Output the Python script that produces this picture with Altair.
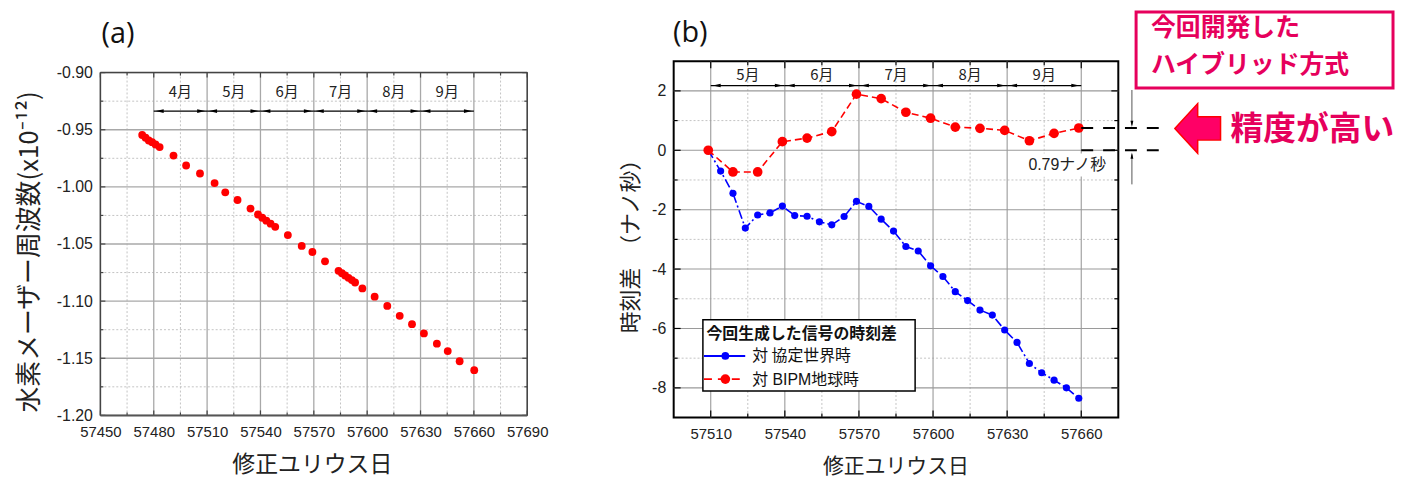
import altair as alt
import pandas as pd

# ---------------- data: panel (a) ----------------
a_mjd = [57473.5, 57475.4, 57477.2, 57479.1, 57481.0, 57483.3,
         57491.1, 57498.2, 57506.0, 57514.2, 57520.2, 57527.1, 57534.4,
         57538.6, 57541.0, 57543.3, 57545.7, 57548.3,
         57555.4, 57563.2, 57569.2, 57576.3,
         57583.9, 57585.8, 57587.6, 57589.5, 57591.4, 57593.2,
         57597.3, 57604.2, 57611.3, 57618.3, 57625.2, 57631.9, 57639.2,
         57645.3, 57652.0, 57660.2]
a_val = [-0.9546, -0.9570, -0.9594, -0.9609, -0.9629, -0.9652,
         -0.9726, -0.9813, -0.9883, -0.9967, -1.0048, -1.0115, -1.0190,
         -1.0242, -1.0270, -1.0296, -1.0322, -1.0350,
         -1.0422, -1.0517, -1.0570, -1.0652,
         -1.0735, -1.0755, -1.0776, -1.0796, -1.0816, -1.0837,
         -1.0889, -1.0961, -1.1042, -1.1129, -1.1202, -1.1283, -1.1372,
         -1.1437, -1.1526, -1.1604]

# ---------------- data: panel (b) ----------------
b_red_mjd = [57509, 57519, 57529, 57539, 57549, 57559, 57569, 57579,
             57589, 57599, 57609, 57619, 57629, 57639, 57649, 57659]
b_red_val = [0.0, -0.73, -0.73, 0.29, 0.41, 0.63, 1.89, 1.74,
             1.28, 1.08, 0.78, 0.74, 0.67, 0.32, 0.57, 0.75]
b_blue_mjd = [57509, 57514, 57519, 57524, 57529, 57534, 57539, 57544,
              57549, 57554, 57559, 57564, 57569, 57574, 57579, 57584,
              57589, 57594, 57599, 57604, 57609, 57614, 57619, 57624,
              57629, 57634, 57639, 57644, 57649, 57654, 57659]
b_blue_val = [0.0, -0.70, -1.45, -2.62, -2.18, -2.11, -1.88, -2.20,
              -2.22, -2.41, -2.51, -2.23, -1.72, -1.89, -2.32, -2.72,
              -3.24, -3.39, -3.89, -4.25, -4.76, -5.06, -5.38, -5.55,
              -6.05, -6.47, -7.18, -7.49, -7.74, -8.00, -8.35]

a_month_edges = [57480, 57510, 57540, 57570, 57600, 57630, 57660]
a_months = ["4月", "5月", "6月", "7月", "8月", "9月"]
b_month_edges = [57510, 57540, 57570, 57600, 57630, 57660]
b_months = ["5月", "6月", "7月", "8月", "9月"]

a_x_major = [57450, 57480, 57510, 57540, 57570, 57600, 57630, 57660, 57690]
a_x_minor = [57465, 57495, 57525, 57555, 57585, 57615, 57645, 57675]
a_y_major = [-1.20, -1.15, -1.10, -1.05, -1.00, -0.95, -0.90]
a_y_minor = [-1.175, -1.125, -1.075, -1.025, -0.975, -0.925]
b_x_major = [57510, 57540, 57570, 57600, 57630, 57660]
b_x_minor = [57525, 57555, 57585, 57615, 57645]
b_y_major = [-8, -6, -4, -2, 0, 2]
b_y_minor = [-7, -5, -3, -1, 1]
gap_value = [0.75]

JP = "Noto Sans CJK JP"
LAT = "Liberation Sans, Noto Sans CJK JP"
PINK = "#E6005C"
MINUS = "replace(format(datum.value, '{f}'), '\u2212', '-')"

AW, AH, ATOP = 429.6, 356.5, 11.5
BW, BH = 447.5, 358.7

ax_s = alt.Scale(domain=[57450, 57690], nice=False, zero=False)
ay_s = alt.Scale(domain=[-1.2, -0.9], range=[AH, ATOP], nice=False, zero=False)
bx_s = alt.Scale(domain=[57495, 57675], nice=False, zero=False)
by_s = alt.Scale(domain=[-9, 3], nice=False, zero=False)

AXES = {
    id(ax_s): alt.Axis(values=a_x_major, format="d", labelFont=LAT, labelFontSize=15,
                       labelColor="#222", ticks=False, grid=False, domain=False,
                       labelPadding=9, labelFlush=False, title=None),
    id(ay_s): alt.Axis(values=a_y_major, labelExpr=MINUS.format(f=".2f"), labelFont=LAT,
                       labelFontSize=16, labelColor="#222", ticks=False, grid=False,
                       domain=False, labelPadding=8, labelFlush=False, title=None),
    id(bx_s): alt.Axis(values=b_x_major, format="d", labelFont=LAT, labelFontSize=15,
                       labelColor="#222", ticks=False, grid=False, domain=False,
                       labelPadding=9, labelFlush=False, title=None),
    id(by_s): alt.Axis(values=b_y_major, labelExpr=MINUS.format(f="d"), labelFont=LAT,
                       labelFontSize=16, labelColor="#222", ticks=False, grid=False,
                       domain=False, labelPadding=8, labelFlush=False, title=None),
}


def X(field, s):
    return alt.X(field, scale=s, axis=AXES[id(s)], title=None)


def Y(field, s):
    return alt.Y(field, scale=s, axis=AXES[id(s)], title=None)


def XD(v, s):
    return alt.datum(v, scale=s, axis=AXES[id(s)])


def YD(v, s):
    return alt.datum(v, scale=s, axis=AXES[id(s)])


one = pd.DataFrame({"k": [0]})


def T(s, x, y, size, font=JP, weight="normal", color="#222", align="center", angle=0):
    kw = dict(fontSize=size, font=font, fontWeight=weight, color=color,
              align=align, baseline="middle")
    if angle:
        kw["angle"] = angle
    return alt.Chart(pd.DataFrame({"t": [s]})).mark_text(**kw).encode(
        x=alt.value(x), y=alt.value(y), text="t:N")


def R(x1, y1, x2=None, y2=None, color="black", width=1.0, dash=None):
    enc = dict(x=alt.value(x1), y=alt.value(y1))
    if x2 is not None:
        enc["x2"] = alt.value(x2)
    if y2 is not None:
        enc["y2"] = alt.value(y2)
    kw = dict(color=color, strokeWidth=width)
    if dash:
        kw["strokeDash"] = dash
    return alt.Chart(one).mark_rule(**kw).encode(**enc)


def vlines(vals, scale, y1, y2, color, width, dash=None):
    kw = dict(color=color, strokeWidth=width)
    if dash:
        kw["strokeDash"] = dash
    return alt.Chart(pd.DataFrame({"v": vals})).mark_rule(**kw).encode(
        x=X("v:Q", scale), y=alt.value(y1), y2=alt.value(y2))


def hlines(vals, scale, x1, x2, color, width, dash=None):
    kw = dict(color=color, strokeWidth=width)
    if dash:
        kw["strokeDash"] = dash
    return alt.Chart(pd.DataFrame({"v": vals})).mark_rule(**kw).encode(
        y=Y("v:Q", scale), x=alt.value(x1), x2=alt.value(x2))


LEFT_HEAD = "M -1 0 L 1 -0.45 L 1 0.45 Z"
RIGHT_HEAD = "M 1 0 L -1 -0.45 L -1 0.45 Z"
DOWN_HEAD = "M 0 1 L -0.45 -1 L 0.45 -1 Z"
UP_HEAD = "M 0 -1 L -0.45 1 L 0.45 1 Z"
BIG_ARROW = "M -0.92 0 L 0 -1 L 0 -0.47 L 0.92 -0.47 L 0.92 0.47 L 0 0.47 L 0 1 Z"


def month_arrows(edges, names, xs, ys, y_arrow, y_label):
    df = pd.DataFrame({"s": edges[:-1], "e": edges[1:], "name": names})
    df["m"] = (df["s"] + df["e"]) / 2
    base = alt.Chart(df)
    line = base.mark_rule(color="black", strokeWidth=1.2).encode(
        x=X("s:Q", xs), x2="e:Q", y=YD(y_arrow, ys))
    lh = base.mark_point(shape=LEFT_HEAD, filled=True, color="black", size=64,
                         opacity=1, xOffset=6).encode(x=X("s:Q", xs), y=YD(y_arrow, ys))
    rh = base.mark_point(shape=RIGHT_HEAD, filled=True, color="black", size=64,
                         opacity=1, xOffset=-6).encode(x=X("e:Q", xs), y=YD(y_arrow, ys))
    lab = base.mark_text(font=JP, fontSize=15, color="#222").encode(
        x=X("m:Q", xs), y=YD(y_label, ys), text="name:N")
    return [line, lh, rh, lab]


def ticks(xv, xminor, yv, yminor, xs, ys, W, top, H, major, minor, color):
    return [
        vlines(xv, xs, H, H - major, color, 1.2),
        vlines(xminor, xs, H, H - minor, color, 1.2),
        vlines(xv, xs, top, top + major, color, 1.2),
        vlines(xminor, xs, top, top + minor, color, 1.2),
        hlines(yv, ys, 0, major, color, 1.2),
        hlines(yminor, ys, 0, minor, color, 1.2),
        hlines(yv, ys, W - major, W, color, 1.2),
        hlines(yminor, ys, W - minor, W, color, 1.2),
    ]


def P(shape, x, y, size, fill, stroke=None, sw=0):
    kw = dict(shape=shape, filled=True, fill=fill, size=size, opacity=1)
    if stroke:
        kw["stroke"] = stroke
        kw["strokeWidth"] = sw
    else:
        kw["strokeWidth"] = 0
    return alt.Chart(one).mark_point(**kw).encode(x=alt.value(x), y=alt.value(y))


def RECT(x1, y1, x2, y2, fill, stroke, sw):
    return alt.Chart(one).mark_rect(fill=fill, stroke=stroke, strokeWidth=sw).encode(
        x=alt.value(x1), x2=alt.value(x2), y=alt.value(y1), y2=alt.value(y2))


# ---------------- panel (a) ----------------
dfa = pd.DataFrame({"mjd": a_mjd, "val": a_val})
a_points = alt.Chart(dfa).mark_circle(size=62, color="#FF0000", opacity=1).encode(
    x=X("mjd:Q", ax_s), y=Y("val:Q", ay_s))

a_layers = [
    R(-91.2, 300, -90.7, None, "white", 1),
    vlines(a_x_minor, ax_s, ATOP, AH, "#c4c4c4", 1, [2, 2]),
    hlines(a_y_minor, ay_s, 0, AW, "#c4c4c4", 1, [2, 2]),
    vlines(a_x_major, ax_s, ATOP, AH, "#a8a8a8", 1.3),
    hlines(a_y_major, ay_s, 0, AW, "#a8a8a8", 1.3),
] + ticks(a_x_major, a_x_minor, a_y_major, a_y_minor, ax_s, ay_s, AW, ATOP, AH, 5, 3, "#444") + [
    R(0, ATOP, AW, None, "#444", 1.5),
    R(AW, ATOP, None, AH, "#444", 1.5),
    R(0, ATOP, None, AH, "#444", 1.5),
    R(0, AH, AW, None, "#555", 2),
] + month_arrows(a_month_edges, a_months, ax_s, ay_s, -0.9337, -0.9166) + [
    a_points,
    T("(a)", 17.8, -27.3, 29, font="Open Sans", color="#111"),
    T("水素メーザー周波数(x10\u207b\u00b9\u00b2)", -71, 192, 26, angle=270),
    T("修正ユリウス日", 213.3, 406, 23),
]
panel_a = alt.layer(*a_layers).properties(
    width=AW, height=AH, view=alt.ViewBackground(stroke="transparent"))

# ---------------- panel (b) ----------------
dfr = pd.DataFrame({"mjd": b_red_mjd, "val": b_red_val})
dfb = pd.DataFrame({"mjd": b_blue_mjd, "val": b_blue_val})
blue_line = alt.Chart(dfb).mark_line(color="#0000FF", strokeWidth=1.6,
                                     strokeDash=[9, 3, 2, 3]).encode(
    x=X("mjd:Q", bx_s), y=Y("val:Q", by_s))
blue_pts = alt.Chart(dfb).mark_circle(size=52, color="#0000FF", opacity=1).encode(
    x=X("mjd:Q", bx_s), y=Y("val:Q", by_s))
red_line = alt.Chart(dfr).mark_line(color="#FF0000", strokeWidth=1.6,
                                    strokeDash=[7, 4]).encode(
    x=X("mjd:Q", bx_s), y=Y("val:Q", by_s))
red_pts = alt.Chart(dfr).mark_circle(size=95, color="#FF0000", opacity=1).encode(
    x=X("mjd:Q", bx_s), y=Y("val:Q", by_s))

gap_df = pd.DataFrame({"g": gap_value})
gap_top = alt.Chart(gap_df).mark_rule(color="black", strokeWidth=2.2, strokeDash=[12, 10]).encode(
    x=XD(57660, bx_s), x2=alt.value(491), y=Y("g:Q", by_s))
gap_bot = alt.Chart(one).mark_rule(color="black", strokeWidth=2.2, strokeDash=[12, 10]).encode(
    x=XD(57660, bx_s), x2=alt.value(491), y=YD(0, by_s))

b_layers = [
    vlines(b_x_minor, bx_s, 0, BH, "#c4c4c4", 1, [2, 2]),
    hlines(b_y_minor, by_s, 0, BW, "#c4c4c4", 1, [2, 2]),
    vlines(b_x_major, bx_s, 0, BH, "#9a9a9a", 1.1),
    hlines(b_y_major, by_s, 0, BW, "#9a9a9a", 1.1),
] + ticks(b_x_major, b_x_minor, b_y_major, b_y_minor, bx_s, by_s, BW, 0, BH, 7, 4, "black") + \
    month_arrows(b_month_edges, b_months, bx_s, by_s, 2.18, 2.54) + [
    RECT(355, 93, 438, 116, "white", "white", 0),
    T("0.79ナノ秒", 357, 105, 16, font=LAT, align="left"),
    blue_line, blue_pts, red_line, red_pts,
    gap_top, gap_bot,
    R(461.2, 29, None, 64, "#555", 1),
    P(DOWN_HEAD, 461.2, 63, 40, "black"),
    R(461.2, 124, None, 94, "#555", 1),
    P(UP_HEAD, 461.2, 95, 40, "black"),
    # legend
    RECT(29.4, 260.3, 243, 332, "white", "black", 1.5),
    T("今回生成した信号の時刻差", 33, 274.5, 16, weight="bold", align="left", color="#111"),
    R(30.5, 296.7, 72, None, "#0000FF", 2),
    P("circle", 52, 296.7, 60, "#0000FF"),
    T("対 協定世界時", 79, 297, 16, align="left", color="#111"),
    R(30.5, 320, 72, None, "#FF0000", 2, [8, 6]),
    P("circle", 52, 320, 95, "#FF0000"),
    T("対 BIPM地球時", 79, 320.5, 16, align="left", color="#111", font=LAT),
    # titles
    T("(b)", 16.7, -28, 29, font="Open Sans", color="#111"),
    T("時刻差\u3000（ナノ秒）", -43.3, 181, 22, angle=270),
    T("修正ユリウス日", 223.7, 408, 21),
    # callouts
    RECT(465.4, -49.5, 724, 27, "white", PINK, 3),
    T("今回開発した", 480.4, -33, 25, weight="bold", color=PINK, align="left"),
    T("ハイブリッド方式", 480.4, 3.5, 25, weight="bold", color=PINK, align="left"),
    P(BIG_ARROW, 527.4, 67.7, 2500, "#FF0066", "#FF0000", 1.5),
    T("精度が高い", 560.4, 69, 33, weight="bold", color=PINK, align="left"),
]
panel_b = alt.layer(*b_layers).properties(
    width=BW, height=BH, view=alt.ViewBackground(stroke="black", strokeWidth=2))

chart = alt.hconcat(panel_a, panel_b, spacing=147, bounds="flush").properties(
    padding={"left": 0, "top": 0, "right": 0, "bottom": 0},
    background="white",
)
chart.save("out.html", embed_options={"renderer": "svg", "actions": False})
